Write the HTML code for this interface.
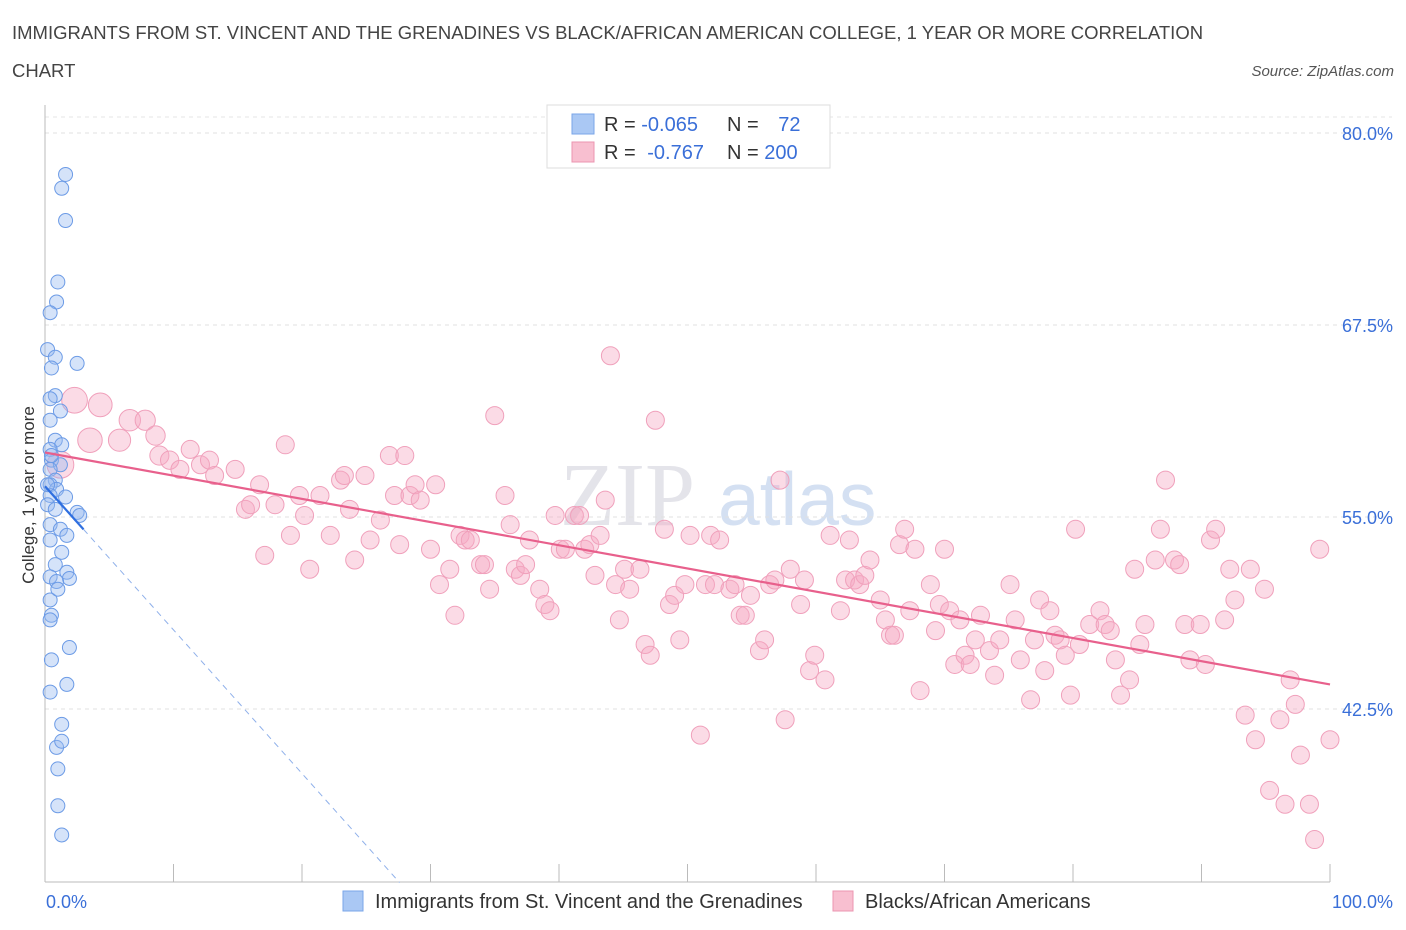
<!DOCTYPE html>
<html><head><meta charset="utf-8"><style>
body{margin:0;background:#fff;font-family:"Liberation Sans",sans-serif;}
svg{display:block}
</style></head><body>
<svg id="chart" width="1406" height="930">
<text x="12" y="39" font-size="18.5" fill="#444">IMMIGRANTS FROM ST. VINCENT AND THE GRENADINES VS BLACK/AFRICAN AMERICAN COLLEGE, 1 YEAR OR MORE CORRELATION</text>
<text x="12" y="77" font-size="18.5" fill="#444">CHART</text>
<text x="1394" y="76" font-size="15" fill="#555" font-style="italic" text-anchor="end">Source: ZipAtlas.com</text>
<text x="560" y="525" font-size="90" fill="#e4e4ea" font-family="Liberation Serif">ZIP</text>
<text x="718" y="525" font-size="75" fill="#d4e0f2">atlas</text>
<g id="grid"></g>
<g id="axes"></g>
<g id="pts"></g>
<g id="trends"></g>
<text transform="translate(34,495) rotate(-90)" font-size="17" fill="#333" text-anchor="middle">College, 1 year or more</text>
<g>
<rect x="547" y="105" width="283" height="63" fill="#fff" stroke="#ddd"/>
<rect x="572" y="114" width="22" height="20" fill="#aac8f4" stroke="#7aa6e8"/>
<rect x="572" y="142" width="22" height="20" fill="#f8bfd0" stroke="#eb95b0"/>
<text x="604" y="131" font-size="20" fill="#333">R = <tspan fill="#3a6fd8">-0.065</tspan></text>
<text x="727" y="131" font-size="20" fill="#333">N = <tspan fill="#3a6fd8" dx="14">72</tspan></text>
<text x="604" y="159" font-size="20" fill="#333">R = <tspan fill="#3a6fd8" dx="6">-0.767</tspan></text>
<text x="727" y="159" font-size="20" fill="#333">N = <tspan fill="#3a6fd8">200</tspan></text>
</g>
<g>
<rect x="343" y="891" width="20" height="20" fill="#aac8f4" stroke="#7aa6e8"/>
<text x="375" y="908" font-size="20" fill="#333">Immigrants from St. Vincent and the Grenadines</text>
<rect x="833" y="891" width="20" height="20" fill="#f8bfd0" stroke="#eb95b0"/>
<text x="865" y="908" font-size="20" fill="#333">Blacks/African Americans</text>
</g>
</svg>
<script>
const yTicks=[80,67.5,55,42.5];
const yTickLabels=["80.0%","67.5%","55.0%","42.5%"];
const xTickLabels=["0.0%","100.0%"];
const blueX=[1.6,1.3,1.6,1.0,0.9,0.4,0.2,0.8,2.5,0.5,0.8,0.4,1.2,0.4,0.8,1.3,0.4,0.5,1.2,0.4,0.8,0.4,0.9,0.4,1.6,2.5,2.7,0.4,1.2,1.7,0.4,1.3,0.8,1.7,0.4,1.9,0.9,0.4,0.5,0.4,1.9,0.5,1.7,0.4,1.3,0.9,1.3,1.0,1.0,1.3,0.2,0.8,0.2,0.5,1.0];
const blueY=[77.3,76.4,74.3,70.3,69.0,68.3,65.9,65.4,65.0,64.7,62.9,62.7,61.9,61.3,60.0,59.7,59.4,58.7,58.4,58.1,57.4,57.1,56.8,56.4,56.3,55.3,55.1,54.5,54.2,53.8,53.5,52.7,51.9,51.4,51.1,51.0,50.8,49.6,48.6,48.3,46.5,45.7,44.1,43.6,41.5,40.0,40.4,38.6,36.2,34.3,55.8,55.5,57.1,59.0,50.3];
const pinkX=[1.2,2.3,4.3,3.5,5.8,6.6,7.8,8.6,8.9,9.7,10.5,11.3,12.1,12.8,13.2,14.8,15.6,16.0,16.7,17.1,17.9,18.7,19.1,19.8,20.2,20.6,21.4,22.2,23.0,23.3,23.7,24.1,24.9,25.3,26.1,26.8,27.2,27.6,28.0,28.4,28.8,29.2,30.0,30.4,30.7,31.5,31.9,32.3,32.7,33.1,33.9,34.2,34.6,35.0,35.8,36.2,36.6,37.0,37.4,37.7,38.5,38.9,39.3,39.7,40.1,40.5,41.2,41.6,42.0,42.4,42.8,43.2,43.6,44.0,44.4,44.7,45.1,45.5,46.3,46.7,47.1,47.5,48.2,48.6,49.0,49.4,49.8,50.2,51.0,51.4,51.8,52.1,52.5,53.3,53.7,54.1,54.5,54.9,55.6,56.0,56.4,56.8,57.2,57.6,58.0,58.8,59.1,59.5,59.9,60.7,61.1,61.9,62.3,62.6,63.0,63.4,63.8,64.2,65.0,65.4,65.8,66.1,66.5,66.9,67.3,67.7,68.1,68.9,69.3,69.6,70.0,70.4,70.8,71.2,71.6,72.0,72.4,72.8,73.5,73.9,74.3,75.1,75.5,75.9,76.7,77.0,77.4,77.8,78.2,78.6,79.0,79.4,79.8,80.2,80.5,81.3,82.1,82.5,82.9,83.3,83.7,84.4,84.8,85.2,85.6,86.4,86.8,87.2,87.9,88.3,88.7,89.1,89.9,90.3,90.7,91.1,91.8,92.2,92.6,93.4,93.8,94.2,94.9,95.3,96.1,96.5,96.9,97.3,97.7,98.4,98.8,99.2,100];
const pinkY=[58.4,62.6,62.3,60.0,60.0,61.3,61.3,60.3,59.0,58.7,58.1,59.4,58.4,58.7,57.7,58.1,55.5,55.8,57.1,52.5,55.8,59.7,53.8,56.4,55.1,51.6,56.4,53.8,57.4,57.7,55.5,52.2,57.7,53.5,54.8,59.0,56.4,53.2,59.0,56.4,57.1,56.1,52.9,57.1,50.6,51.6,48.6,53.8,53.5,53.5,51.9,51.9,50.3,61.6,56.4,54.5,51.6,51.2,51.9,53.5,50.3,49.3,48.9,55.1,52.9,52.9,55.1,55.1,52.9,53.2,51.2,53.8,56.1,65.5,50.6,48.3,51.6,50.3,51.6,46.7,46.0,61.3,54.2,49.3,49.9,47.0,50.6,53.8,40.8,50.6,53.8,50.6,53.5,50.3,50.6,48.6,48.6,49.9,46.3,47.0,50.6,50.9,57.4,41.8,51.6,49.3,50.9,45.0,46.0,44.4,53.8,48.9,50.9,53.5,50.9,50.6,51.2,52.2,49.6,48.3,47.3,47.3,53.2,54.2,48.9,52.9,43.7,50.6,47.6,49.3,52.9,48.9,45.4,48.3,46.0,45.4,47.0,48.6,46.3,44.7,47.0,50.6,48.3,45.7,43.1,47.0,49.6,45.0,48.9,47.3,47.0,46.0,43.4,54.2,46.7,48.0,48.9,48.0,47.6,45.7,43.4,44.4,51.6,46.7,48.0,52.2,54.2,57.4,52.2,51.9,48.0,45.7,48.0,45.4,53.5,54.2,48.3,51.6,49.6,42.1,51.6,40.5,50.3,37.2,41.8,36.3,44.4,42.8,39.5,36.3,34.0,52.9,40.5];
const pinkTrend=[59.2,44.1];
const blueTrend=[57.0,-0.935];
const NS="http://www.w3.org/2000/svg";
const X0=45,X1=1330,YT=133,PX_PER=15.36;
const xs=v=>X0+(X1-X0)*v/100;
const ys=v=>YT+(80-v)*PX_PER;
function mk(tag,attrs,parent){const e=document.createElementNS(NS,tag);for(const k in attrs)e.setAttribute(k,attrs[k]);parent.appendChild(e);return e;}
const grid=document.getElementById('grid'),axes=document.getElementById('axes'),pts=document.getElementById('pts'),tr=document.getElementById('trends');
let g=mk('line',{x1:X0,x2:1392,y1:117,y2:117,stroke:'#e6e6e6','stroke-dasharray':'4,4'},grid);


yTicks.forEach((v,i)=>{
  const l=mk('line',{x1:X0,x2:1392,y1:ys(v),y2:ys(v),stroke:'#e0e0e0','stroke-dasharray':'4,4'},grid);
  
  
  const t=mk('text',{x:1393,y:ys(v)+7,'font-size':18,fill:'#3a6fd8','text-anchor':'end'},axes);
  t.textContent=yTickLabels[i];
  
  
});
let a=mk('line',{x1:X0,x2:X0,y1:105,y2:882,stroke:'#bbb'},axes);


a=mk('line',{x1:X0,x2:X1,y1:882,y2:882,stroke:'#bbb'},axes);


for(let i=0;i<=10;i++){
  const tk=mk('line',{x1:xs(i*10),x2:xs(i*10),y1:864,y2:882,stroke:'#bbb'},axes);
  
  
}
[[0,'start',46],[100,'end',1393]].forEach((d,i)=>{
  const t=mk('text',{x:d[2],y:908,'font-size':18,fill:'#3a6fd8','text-anchor':d[1]},axes);
  t.textContent=xTickLabels[i];
  
  
});
pinkX.forEach((x,i)=>{
  const r=x<10?14-x*0.5:9;
  const c=mk('circle',{cx:xs(x),cy:ys(pinkY[i]),r:r,fill:'rgba(246,170,195,0.42)',stroke:'#f0a0bb','stroke-width':1},pts);
  
  
});
blueX.forEach((x,i)=>{
  const c=mk('circle',{cx:xs(x),cy:ys(blueY[i]),r:7,fill:'rgba(150,185,240,0.4)',stroke:'#6c9be6','stroke-width':1},pts);
  
  
});
let t1=mk('line',{x1:xs(0),y1:ys(pinkTrend[0]),x2:xs(100),y2:ys(pinkTrend[1]),stroke:'#e8608c','stroke-width':2.2},tr);


const bEnd=3,bStop=(31.2-blueTrend[0])/blueTrend[1];
let t2=mk('line',{x1:xs(0),y1:ys(blueTrend[0]),x2:xs(bEnd),y2:ys(blueTrend[0]+blueTrend[1]*bEnd),stroke:'#2f6fe0','stroke-width':2.2},tr);


let t3=mk('line',{x1:xs(bEnd),y1:ys(blueTrend[0]+blueTrend[1]*bEnd),x2:xs(bStop),y2:ys(31.2),stroke:'#8fb0ea','stroke-width':1,'stroke-dasharray':'6,5'},tr);


</script>
</body></html>
